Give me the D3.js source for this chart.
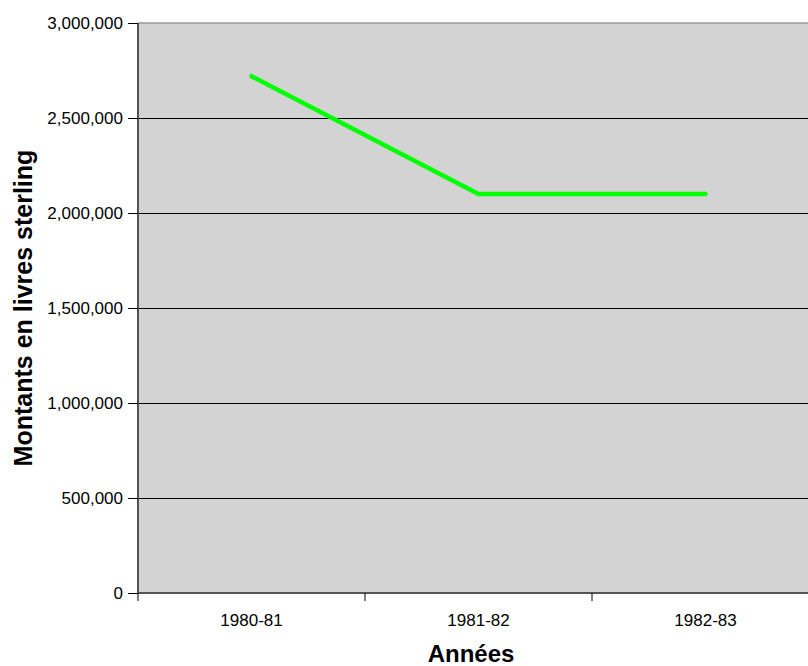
<!DOCTYPE html>
<html>
<head>
<meta charset="utf-8">
<script src="https://cdn.jsdelivr.net/npm/d3@7"></script>
<style>
  body { margin: 0; background: #fff; }
  svg text { font-family: "Liberation Sans", Arial, sans-serif; }
</style>
</head>
<body>
<div id="chart-area"></div>
<script>
// data
const years = ["1980-81", "1981-82", "1982-83"];
const amounts = [2720000, 2100000, 2100000];
const yTicks = [0, 500000, 1000000, 1500000, 2000000, 2500000, 3000000];

const margin = { left: 138, right: -11, top: 23, bottom: 73 },
  W = 808, H = 666,
  width = W - margin.left - margin.right,
  height = H - margin.top - margin.bottom;

const svg = d3.select("#chart-area").append("svg")
  .attr("width", W)
  .attr("height", H);

const g = svg.append("g")
  .attr("transform", `translate(${margin.left},${margin.top})`);

// scales
const x = d3.scaleBand().domain(years).range([0, width]);
const y = d3.scaleLinear().domain([0, 3000000]).range([height, 0]);

// plot background
g.append("rect")
  .attr("width", width)
  .attr("height", height)
  .attr("fill", "#d3d3d3");

// gridlines
g.selectAll(".grid")
  .data(yTicks.slice(1, -1))
  .enter().append("line")
  .attr("x1", 0).attr("x2", width)
  .attr("y1", d => y(d)).attr("y2", d => y(d))
  .attr("stroke", "#000")
  .attr("stroke-width", 1)
  .attr("shape-rendering", "crispEdges");

// top border
g.append("line")
  .attr("x1", 0).attr("x2", width)
  .attr("y1", 0).attr("y2", 0)
  .attr("stroke", "#999")
  .attr("stroke-width", 1.5);

// axes
const fmt = d3.format(",");
const yAxis = g.append("g")
  .call(d3.axisLeft(y).tickValues(yTicks).tickFormat(fmt).tickSize(10).tickPadding(5));
const xAxis = g.append("g")
  .attr("transform", `translate(0,${height})`)
  .call(d3.axisBottom(x).tickSize(0).tickPadding(21));

// category boundary ticks
xAxis.selectAll(".bound")
  .data(years.map(d => x(d)).concat([width]))
  .enter().append("line")
  .attr("x1", d => d).attr("x2", d => d)
  .attr("y1", 0).attr("y2", 8)
  .attr("stroke", "#000");

[yAxis, xAxis].forEach(a => {
  a.select(".domain").attr("stroke", "#555").attr("stroke-width", 2);
  a.selectAll(".tick line").attr("stroke", "#000");
  a.selectAll("text").style("font-size", "17px").attr("fill", "#000");
});
yAxis.select(".domain").attr("d", `M0,${height}V0`);
xAxis.select(".domain").attr("d", `M0,0H${width}`);

// line
const line = d3.line()
  .x(d => x(d.year) + x.bandwidth() / 2)
  .y(d => y(d.val));

g.append("path")
  .datum(years.map((d, i) => ({ year: d, val: amounts[i] })))
  .attr("fill", "none")
  .attr("stroke", "#00ff00")
  .attr("stroke-width", 4.5)
  .attr("stroke-linecap", "round")
  .attr("stroke-linejoin", "round")
  .attr("d", line);

// axis titles
svg.append("text")
  .attr("x", 471)
  .attr("y", 662)
  .attr("text-anchor", "middle")
  .style("font-size", "24px")
  .style("font-weight", "bold")
  .text("Années");

svg.append("text")
  .attr("transform", "translate(32,308) rotate(-90)")
  .attr("text-anchor", "middle")
  .style("font-size", "25px")
  .style("font-weight", "bold")
  .text("Montants en livres sterling");
</script>
</body>
</html>
